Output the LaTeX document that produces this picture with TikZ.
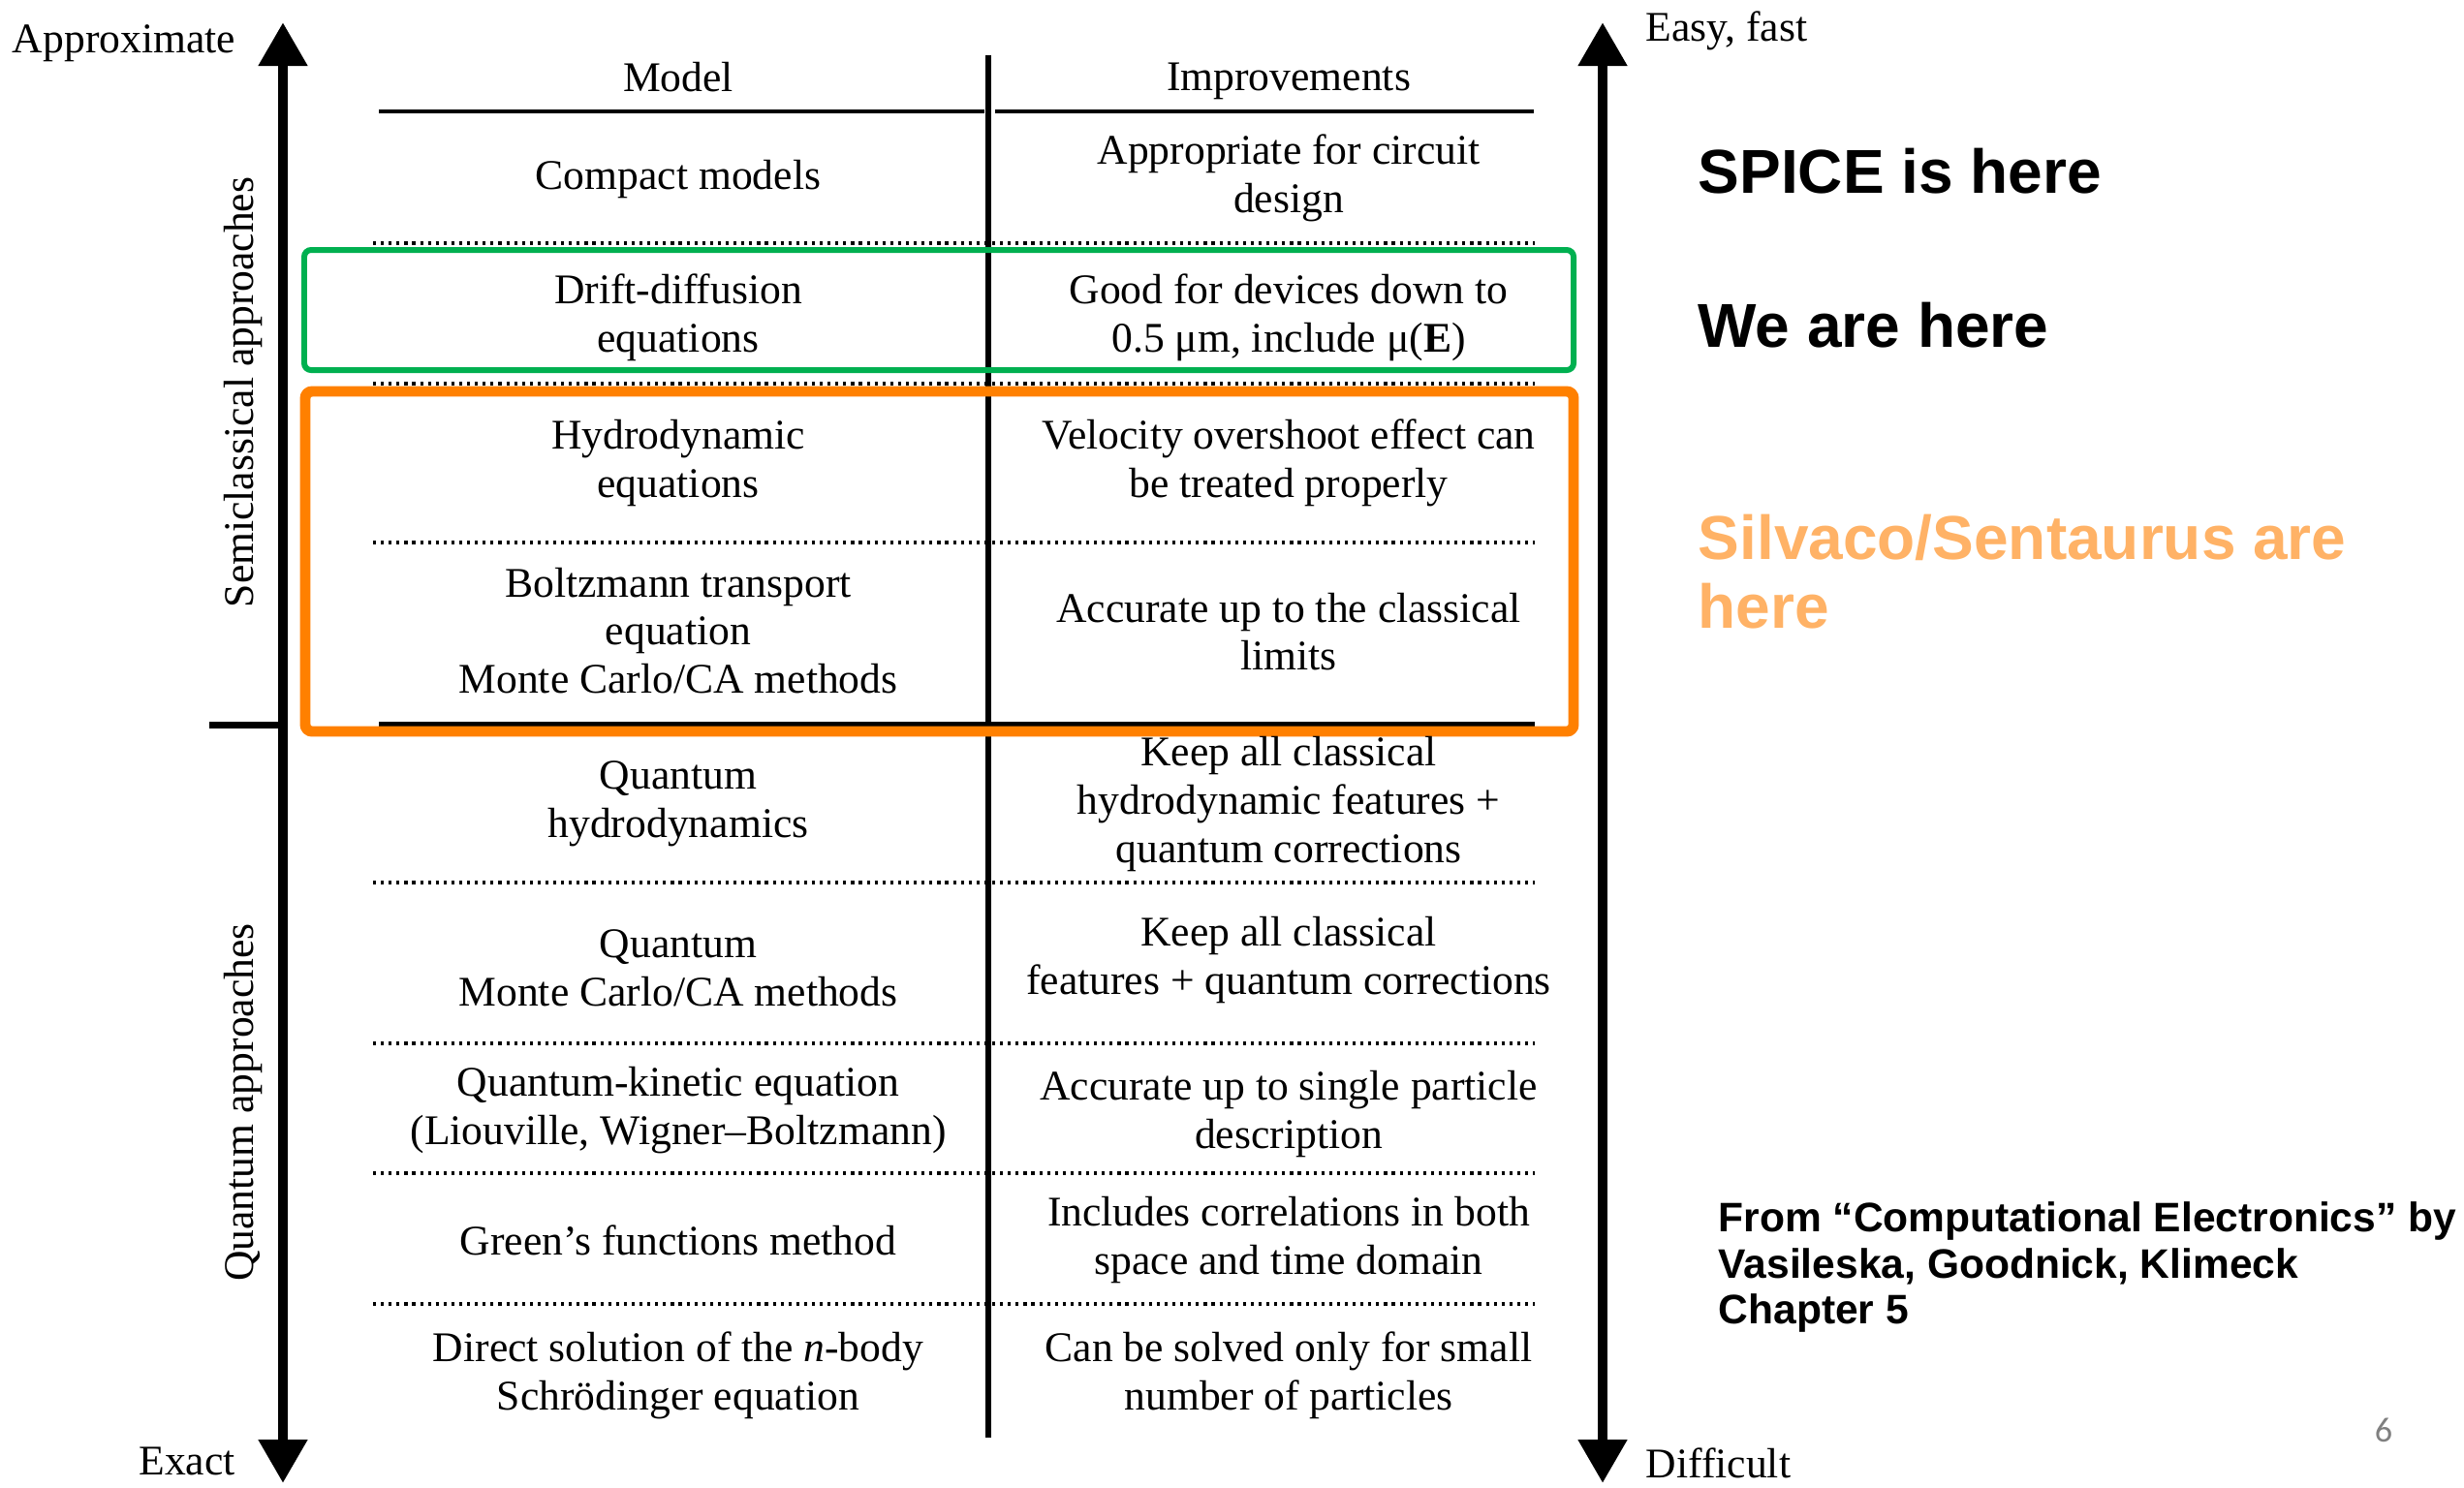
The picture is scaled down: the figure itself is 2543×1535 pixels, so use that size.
\documentclass[tikz,border=0pt]{standalone}
\usepackage{fontspec}
\setmainfont{Liberation Serif}
\setsansfont{Liberation Sans}
\newfontfamily\pagefont{Carlito}
\usetikzlibrary{arrows.meta}
\definecolor{boxgreen}{RGB}{0,176,80}
\definecolor{boxorange}{RGB}{255,128,0}
\definecolor{noteorange}{RGB}{255,178,102}

\begin{document}
\begin{tikzpicture}[x=0.01cm, y=-0.01cm, >={Triangle[length=4.5mm, width=4.8mm]},
    cell/.style={align=center, inner sep=0pt, font=\fontsize{12.4}{14.1}\selectfont},
    side/.style={inner sep=0pt, font=\fontsize{12.4}{14.1}\selectfont},
    note/.style={anchor=west, align=left, inner sep=0pt, font=\sffamily\bfseries\fontsize{18.2}{20.3}\selectfont},
    axis/.style={<->, line width=3.1pt},
    rule/.style={line width=1.1pt},
    dots/.style={line width=1.2pt, dash pattern=on 0.9pt off 1.4pt},
    frame/.style={rounded corners=2pt}]
\useasboundingbox (0,0) rectangle (2543,1535);

% axes
\coordinate (ltop) at (292,23);
\coordinate (lbot) at (292,1531);
\coordinate (rtop) at (1654,23);
\coordinate (rbot) at (1654,1531);
\draw[axis] (ltop) -- (lbot);
\draw[axis] (rtop) -- (rbot);

% table rules
\draw[line width=1.5pt] (1020,57) -- (1020,1484);
\draw[rule] (391,115) -- (1016,115);
\draw[rule] (1027,115) -- (1583,115);
\foreach \y in {251,396,560,911,1077,1211,1346}
    \draw[dots] (385,\y) -- (1584,\y);
\draw[line width=1.6pt] (391,748) -- (1584,748);
\draw[line width=2pt] (216,748) -- (292,748);

% highlight boxes
\draw[frame, boxgreen, line width=1.7pt] (314,258) rectangle (1624,382);
\draw[frame, boxorange, line width=3.1pt] (315,404) rectangle (1624,755);

% axis labels
\node[side] (approx) at (128,45) {Approximate};
\node[side] (exact) at (193,1508) {Exact};
\node[side, anchor=west] (easy) at (1698,32) {Easy, fast};
\node[side, anchor=west] (hard) at (1698,1510) {Difficult};
\node[side, rotate=90] (semi) at (251,405) {Semiclassical approaches};
\node[side, rotate=90] (quant) at (251,1138) {Quantum approaches};

% table cells
\node[cell] (hmodel) at (700,80) {Model};
\node[cell] (himpr) at (1330,84) {Improvements};
\node[cell] (m1) at (700,185) {Compact models};
\node[cell] (i1) at (1330,184) {Appropriate for circuit\\design};
\node[cell] (m2) at (700,328) {Drift-diffusion\\equations};
\node[cell] (i2) at (1330,328) {Good for devices down to\\0.5 μm, include μ(\textbf{E})};
\node[cell] (m3) at (700,478) {Hydrodynamic\\equations};
\node[cell] (i3) at (1330,478) {Velocity overshoot effect can\\be treated properly};
\node[cell] (m4) at (700,651) {Boltzmann transport\\equation\\Monte Carlo/CA methods};
\node[cell] (i4) at (1330,652) {Accurate up to the classical\\limits};
\node[cell] (m5) at (700,830) {Quantum\\hydrodynamics};
\node[cell] (i5) at (1330,830) {Keep all classical\\hydrodynamic features +\\quantum corrections};
\node[cell] (m6) at (700,999) {Quantum\\Monte Carlo/CA methods};
\node[cell] (i6) at (1330,991) {Keep all classical\\features + quantum corrections};
\node[cell] (m7) at (700,1146) {Quantum-kinetic equation\\(Liouville, Wigner–Boltzmann)};
\node[cell] (i7) at (1330,1150) {Accurate up to single particle\\description};
\node[cell] (m8) at (700,1280) {Green’s functions method};
\node[cell] (i8) at (1330,1280) {Includes correlations in both\\space and time domain};
\node[cell] (m9) at (700,1420) {Direct solution of the \textit{n}-body\\Schrödinger equation};
\node[cell] (i9) at (1330,1420) {Can be solved only for small\\number of particles};

% notes
\node[note] (spice) at (1752,177) {SPICE is here};
\node[note] (we) at (1752,336) {We are here};
\node[note, text=noteorange] (silvaco) at (1752,590) {Silvaco/Sentaurus are\\here};
\node[note, font=\sffamily\bfseries\fontsize{12.1}{13.4}\selectfont] (book) at (1773,1308)
    {From “Computational Electronics” by\\Vasileska, Goodnick, Klimeck\\Chapter 5};
\node[inner sep=0pt, text=gray, font=\pagefont\fontsize{10.3}{12}\selectfont] (page) at (2460,1476) {6};
\end{tikzpicture}
\end{document}
